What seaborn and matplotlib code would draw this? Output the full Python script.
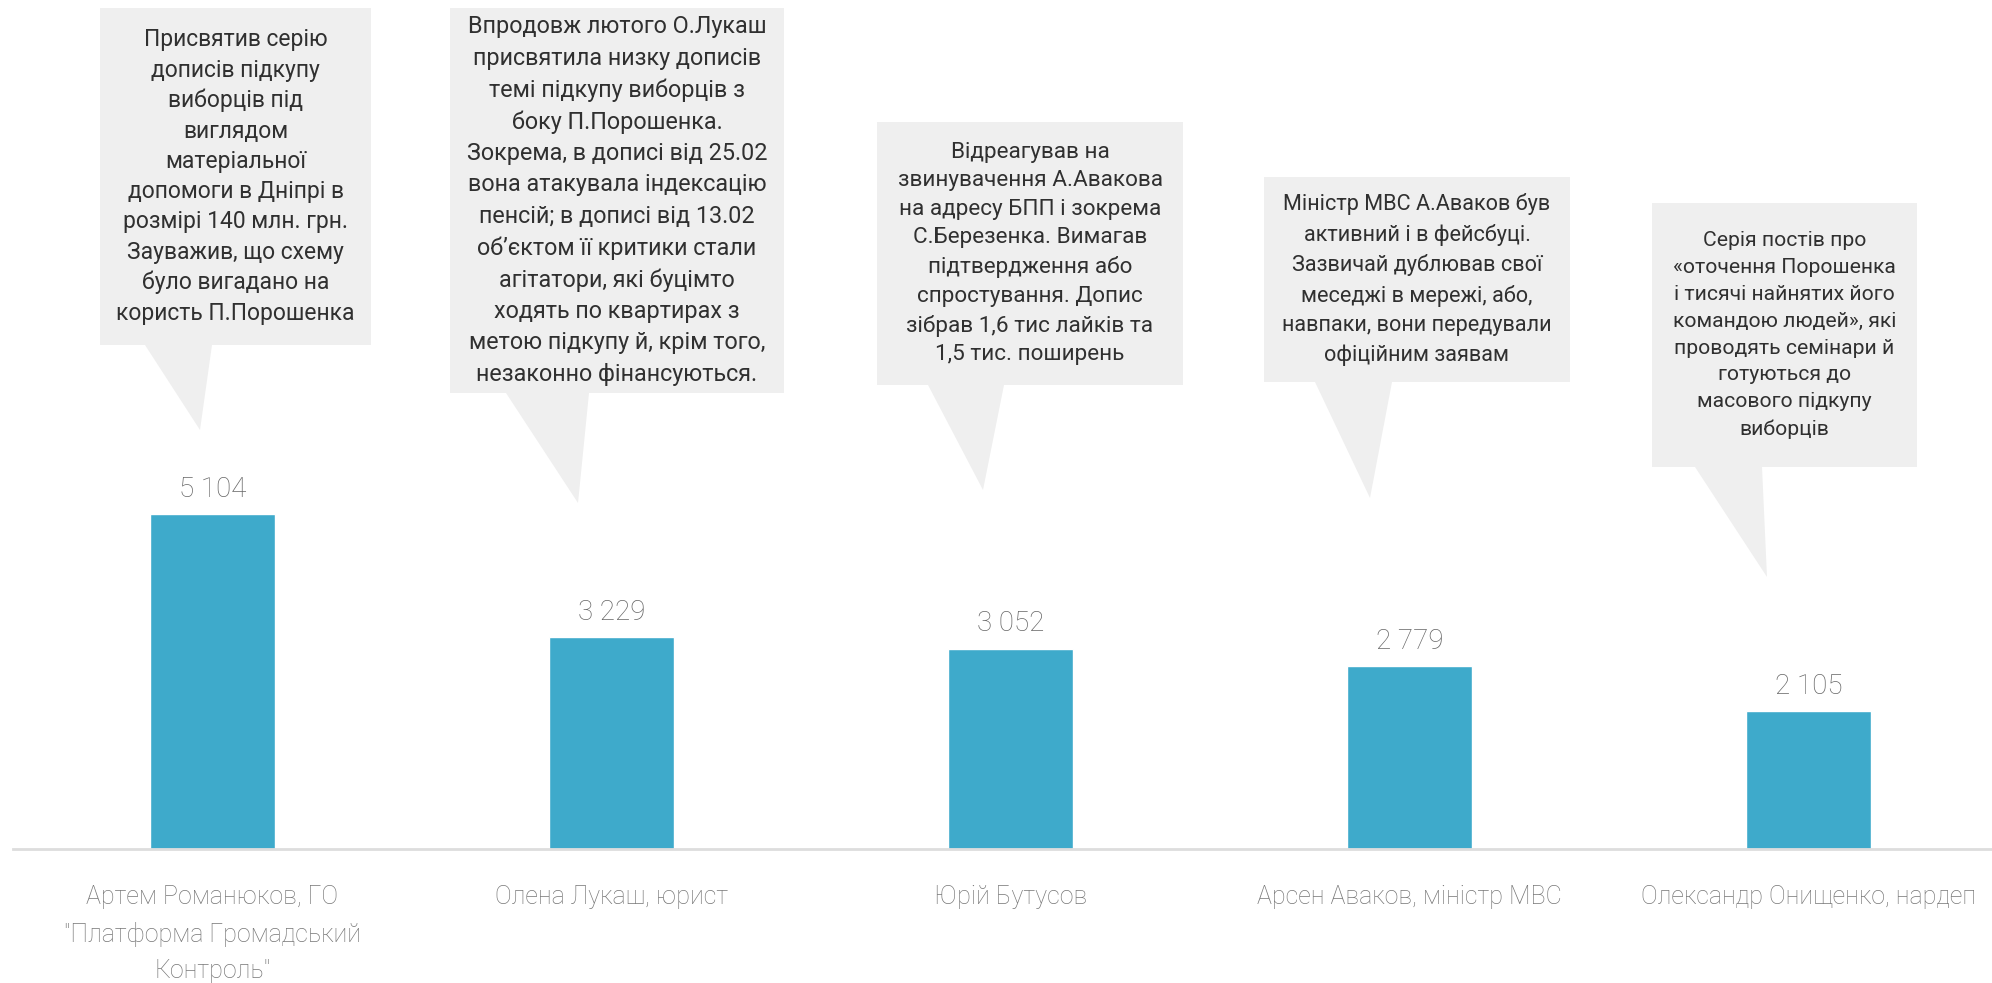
import textwrap
import seaborn as sns
import matplotlib.pyplot as plt
import pandas as pd
from matplotlib.patches import Polygon

# data
names = [
    "Артем Романюков, ГО \"Платформа Громадський Контроль\"",
    "Олена Лукаш, юрист",
    "Юрій Бутусов",
    "Арсен Аваков, міністр МВС",
    "Олександр Онищенко, нардеп",
]
posts = [5104, 3229, 3052, 2779, 2105]

notes = [
    "Присвятив серію\nдописів підкупу\nвиборців під\nвиглядом\nматеріальної\nдопомоги в Дніпрі в\n"
    "розмірі 140 млн. грн.\nЗауважив, що схему\nбуло вигадано на\nкористь П.Порошенка",
    "Впродовж лютого О.Лукаш\nприсвятила низку дописів\nтемі підкупу виборців з\nбоку П.Порошенка.\n"
    "Зокрема, в дописі від 25.02\nвона атакувала індексацію\nпенсій; в дописі від 13.02\n"
    "об’єктом її критики стали\nагітатори, які буцімто\nходять по квартирах з\n"
    "метою підкупу й, крім того,\nнезаконно фінансуються.",
    "Відреагував на\nзвинувачення А.Авакова\nна адресу БПП і зокрема\nС.Березенка. Вимагав\n"
    "підтвердження або\nспростування. Допис\nзібрав 1,6 тис лайків та\n1,5 тис. поширень",
    "Міністр МВС А.Аваков був\nактивний і в фейсбуці.\nЗазвичай дублював свої\n"
    "меседжі в мережі, або,\nнавпаки, вони передували\nофіційним заявам",
    "Серія постів про\n«оточення Порошенка\nі тисячі найнятих його\nкомандою людей», які\n"
    "проводять семінари й\nготуються до\nмасового підкупу\nвиборців",
]

df = pd.DataFrame({"name": names, "posts": posts})

sns.set_style("white")
plt.rcParams["font.family"] = ["Roboto", "DejaVu Sans"]

W, H = 1992, 983
fig = plt.figure(figsize=(W / 100, H / 100), dpi=100)
ax = fig.add_axes([13 / W, 1 - 849 / H, 1 - 13 / W, 849 / H])

sns.barplot(data=df, x="name", y="posts", color="#3eaacb", width=0.313,
            saturation=1, ax=ax)
ax.set_xlim(-0.5, 4.46)
ax.set_ylim(0, 12925)

labels = [f"{v:,}".replace(",", " ") for v in posts]
ax.bar_label(ax.containers[0], labels=labels, padding=8, fontsize=20,
             color="#666666", fontweight="light")

for s in ["top", "left", "right"]:
    ax.spines[s].set_visible(False)
ax.spines["bottom"].set_color("#dddddd")
ax.spines["bottom"].set_linewidth(2)
ax.set_yticks([])
ax.set_xlabel("")
ax.set_ylabel("")
ax.set_xticks(range(len(names)))
ax.set_xticklabels([textwrap.fill(n, 26) for n in names], fontsize=18,
                   color="#777777", fontweight="light", linespacing=1.65,
                   va="top")
ax.tick_params(axis="x", length=0, pad=26)

# callouts (figure pixel layout): box left, top, right, bottom, pointer base, tip
callouts = [
    (100, 8, 371, 345, 145, 212, 200, 430),
    (450, 8, 784, 393, 506, 589, 578, 503),
    (877, 122, 1183, 385, 928, 1004, 983, 490),
    (1264, 177, 1570, 382, 1315, 1392, 1370, 498),
    (1652, 203, 1917, 467, 1695, 1762, 1767, 577),
]
sizes = [16.5, 16.8, 16.2, 15.6, 15.2]
spacing = [1.4, 1.46, 1.47, 1.5, 1.52]


def fp(x, y):
    return (x / W, 1 - y / H)


for note, (l, t, r, b, bl, br, tx, ty), fs, ls in zip(notes, callouts, sizes, spacing):
    pts = [fp(l, t), fp(r, t), fp(r, b), fp(br, b), fp(tx, ty), fp(bl, b), fp(l, b)]
    fig.add_artist(Polygon(pts, closed=True, transform=fig.transFigure,
                           facecolor="#efefef", edgecolor="none"))
    cx, cy = fp((l + r) / 2, (t + b) / 2)
    fig.text(cx, cy, note, ha="center", va="center", fontsize=fs,
             color="#303030", linespacing=ls)

fig.savefig("out.png", dpi=100, facecolor="white")
